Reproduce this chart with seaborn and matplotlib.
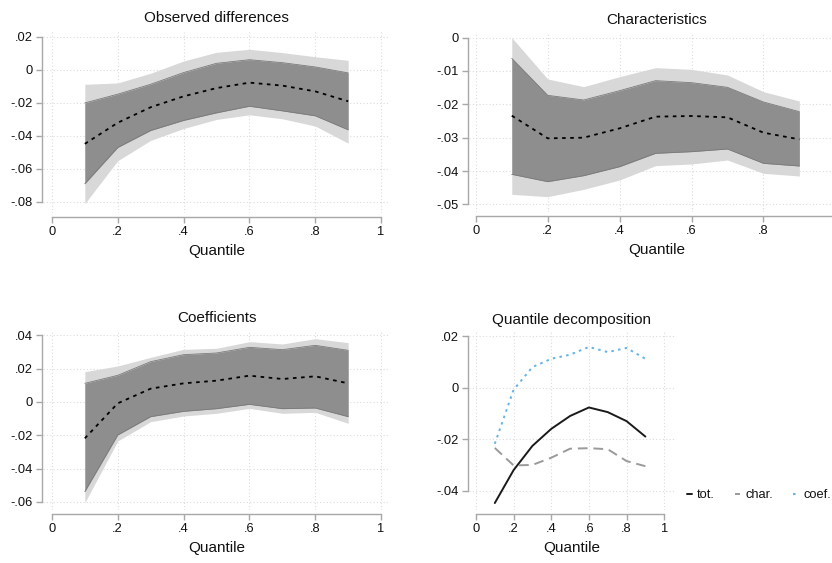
import numpy as np
import pandas as pd
import matplotlib
matplotlib.use("Agg")
import matplotlib.pyplot as plt
import seaborn as sns

sns.set_theme(style="white")
plt.rcParams["font.family"] = ["Liberation Sans", "DejaVu Sans"]

quantiles = [0.1, 0.2, 0.3, 0.4, 0.5, 0.6, 0.7, 0.8, 0.9]

# Observed differences: estimate, 90% band, 95% band
obs_est = [-0.0448, -0.0320, -0.0226, -0.0160, -0.0110, -0.0077, -0.0095, -0.0130, -0.0190]
obs_lo90 = [-0.0690, -0.0470, -0.0367, -0.0306, -0.0260, -0.0220, -0.0248, -0.0278, -0.0363]
obs_hi90 = [-0.0200, -0.0147, -0.0087, -0.0016, 0.0040, 0.0062, 0.0044, 0.0018, -0.0018]
obs_lo95 = [-0.0810, -0.0550, -0.0427, -0.0355, -0.0300, -0.0272, -0.0296, -0.0340, -0.0444]
obs_hi95 = [-0.0087, -0.0079, -0.0020, 0.0054, 0.0107, 0.0125, 0.0105, 0.0080, 0.0058]

# Characteristics
chr_est = [-0.0234, -0.0302, -0.0300, -0.0272, -0.0237, -0.0235, -0.0239, -0.0285, -0.0305]
chr_lo90 = [-0.0410, -0.0432, -0.0414, -0.0387, -0.0347, -0.0342, -0.0334, -0.0377, -0.0385]
chr_hi90 = [-0.0062, -0.0173, -0.0187, -0.0159, -0.0129, -0.0135, -0.0149, -0.0193, -0.0222]
chr_lo95 = [-0.0470, -0.0477, -0.0455, -0.0427, -0.0384, -0.0379, -0.0367, -0.0407, -0.0415]
chr_hi95 = [0.0000, -0.0124, -0.0147, -0.0117, -0.0090, -0.0095, -0.0112, -0.0162, -0.0190]

# Coefficients
coef_est = [-0.0218, -0.0008, 0.0080, 0.0112, 0.0128, 0.0158, 0.0138, 0.0154, 0.0112]
coef_lo90 = [-0.0538, -0.0198, -0.0088, -0.0056, -0.0040, -0.0014, -0.0040, -0.0036, -0.0088]
coef_hi90 = [0.0112, 0.0160, 0.0242, 0.0284, 0.0294, 0.0328, 0.0314, 0.0340, 0.0310]
coef_lo95 = [-0.0604, -0.0234, -0.0118, -0.0084, -0.0068, -0.0038, -0.0068, -0.0062, -0.0128]
coef_hi95 = [0.0182, 0.0216, 0.0268, 0.0316, 0.0322, 0.0362, 0.0348, 0.0380, 0.0356]

x_ticks = [0, 0.2, 0.4, 0.6, 0.8, 1]
x_ticklabels = ["0", ".2", ".4", ".6", ".8", "1"]

LIGHT = "#d8d8d8"
DARK = "#8e8e8e"
AXIS = "#a8a8a8"
GRID = "#dcdcdc"
TXT = "#111111"
TICK_FS = 9.3
LABEL_FS = 11

W, H = 832, 563
fig = plt.figure(figsize=(W / 100, H / 100), dpi=100)


def make_axes(left, top, right, bottom):
    return fig.add_axes([left / W, 1 - bottom / H, (right - left) / W, (bottom - top) / H])


def fmt(v):
    if abs(v) < 1e-12:
        return "0"
    s = f"{v:.2f}".rstrip("0")
    s = s.replace("0.", ".")
    return s


def style_axes(ax, yticks, xlim, ylim, show_last_xlabel=True):
    ax.set_xlim(*xlim)
    ax.set_ylim(*ylim)
    ax.set_xticks(x_ticks)
    labels = list(x_ticklabels)
    if not show_last_xlabel:
        labels[-1] = ""
    ax.set_xticklabels(labels)
    ax.set_yticks(yticks)
    ax.set_yticklabels([fmt(v) for v in yticks])
    for t in yticks:
        ax.axhline(t, color=GRID, lw=0.8, ls=(0, (1, 2)), zorder=0)
    for t in x_ticks:
        ax.axvline(t, color=GRID, lw=0.8, ls=(0, (1, 2)), zorder=0)
    for s in ["top", "right"]:
        ax.spines[s].set_visible(False)
    ax.spines["left"].set_position(("outward", 1))
    ax.spines["bottom"].set_position(("outward", 3))
    ax.spines["left"].set_bounds(min(yticks), max(yticks))
    ax.spines["bottom"].set_bounds(0, 1)
    for s in ["left", "bottom"]:
        ax.spines[s].set_color(AXIS)
        ax.spines[s].set_linewidth(1.0)
    ax.tick_params(axis="both", which="both", length=4, width=1.0, color=AXIS,
                   labelsize=TICK_FS, labelcolor=TXT, pad=2.5, direction="out",
                   left=True, bottom=True)
    ax.set_xlabel("Quantile", fontsize=LABEL_FS, color=TXT, labelpad=4)
    ax.set_ylabel("")
    ax.patch.set_alpha(0)


def band_panel(ax, title, est, lo90, hi90, lo95, hi95, yticks, xlim, ylim, last=True):
    ax.fill_between(quantiles, lo95, hi95, color=LIGHT, lw=0, zorder=1)
    ax.fill_between(quantiles, lo90, hi90, color=DARK, lw=0, zorder=2)
    ax.plot(quantiles, lo90, color="#7a7a7a", lw=0.6, zorder=3)
    ax.plot(quantiles, hi90, color="#7a7a7a", lw=0.6, zorder=3)
    df = pd.DataFrame({"q": quantiles, "est": est})
    sns.lineplot(data=df, x="q", y="est", ax=ax, color="black", lw=1.3,
                 linestyle=(0, (2, 2.5)), zorder=4)
    style_axes(ax, yticks, xlim, ylim, show_last_xlabel=last)
    ax.set_title(title, fontsize=LABEL_FS, color=TXT, pad=6)


ax1 = make_axes(43, 30, 390, 213)
band_panel(ax1, "Observed differences", obs_est, obs_lo90, obs_hi90, obs_lo95, obs_hi95,
           [0.02, 0, -0.02, -0.04, -0.06, -0.08], (-0.027, 1.027), (-0.0867, 0.0242))

ax2 = make_axes(469, 32, 845, 212)
band_panel(ax2, "Characteristics", chr_est, chr_lo90, chr_hi90, chr_lo95, chr_hi95,
           [0, -0.01, -0.02, -0.03, -0.04, -0.05], (-0.019, 1.027), (-0.0523, 0.0017),
           last=False)

ax3 = make_axes(43, 330, 390, 510)
band_panel(ax3, "Coefficients", coef_est, coef_lo90, coef_hi90, coef_lo95, coef_hi95,
           [0.04, 0.02, 0, -0.02, -0.04, -0.06], (-0.027, 1.027), (-0.0648, 0.0432))

# Decomposition panel: the three point estimates together
ax4 = make_axes(469, 332, 674, 510)
decomp = pd.DataFrame({
    "q": quantiles * 3,
    "value": obs_est + chr_est + coef_est,
    "series": ["tot."] * 9 + ["char."] * 9 + ["coef."] * 9,
})
palette = {"tot.": "#1a1a1a", "char.": "#9a9a9a", "coef.": "#63b3e3"}
styles = {"tot.": "-", "char.": (0, (5, 3)), "coef.": (0, (1.3, 2.2))}
for name in ["tot.", "char.", "coef."]:
    sub = decomp[decomp["series"] == name]
    sns.lineplot(data=sub, x="q", y="value", ax=ax4, color=palette[name], lw=1.4,
                 linestyle=styles[name], label=name, zorder=3)
style_axes(ax4, [0.02, 0, -0.02, -0.04], (-0.037, 1.052), (-0.0475, 0.0216))
ax4.set_title("Quantile decomposition", fontsize=LABEL_FS, color=TXT, pad=6)
leg = ax4.legend(loc="center left", bbox_to_anchor=(1.063, 0.084), ncol=3, frameon=False,
                 fontsize=TICK_FS, handlelength=0.4, handletextpad=0.4, columnspacing=1.55,
                 borderaxespad=0.0, borderpad=0.0)
for txt in leg.get_texts():
    txt.set_color(TXT)

fig.savefig("out.png", dpi=100, facecolor="white")
